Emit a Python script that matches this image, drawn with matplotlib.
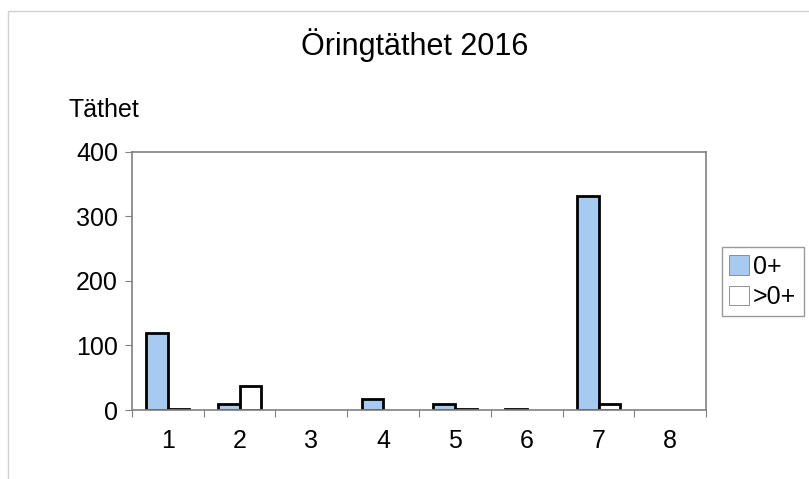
import numpy as np
import matplotlib.pyplot as plt
from matplotlib.patches import Rectangle

plt.rcParams["font.family"] = ["Liberation Sans", "DejaVu Sans"]

sites = ["1", "2", "3", "4", "5", "6", "7", "8"]
young = [120, 10, 0, 17, 10, 2, 332, 0]
older = [2, 37, 0, 0, 2, 0, 9, 0]

fig = plt.figure(figsize=(8.09, 4.79), dpi=100)
ax = fig.add_axes([0.163, 0.144, 0.710, 0.539])

# ram runt hela diagramytan
fig.patches.append(Rectangle((8 / 809, -0.1), 1.2, 1 - 11 / 479 + 0.1,
                             transform=fig.transFigure, fill=False,
                             edgecolor="#d0d0d0", linewidth=1.0))

x = np.arange(1, len(sites) + 1)
w = 0.3
# nollvärden ritas inte alls (ingen kantlinje på axeln)
lw_young = [2 if v > 0 else 0 for v in young]
lw_older = [2 if v > 0 else 0 for v in older]
ax.bar(x - w / 2, young, width=w, color="#a6caf0", edgecolor="black",
       linewidth=lw_young, label="0+")
ax.bar(x + w / 2, older, width=w, color="white", edgecolor="black",
       linewidth=lw_older, label=">0+")

ax.set_xlim(0.5, len(sites) + 0.5)
ax.set_ylim(0, 400)
ax.set_yticks([0, 100, 200, 300, 400])
ax.set_xticks(np.arange(0.5, len(sites) + 1, 1))
ax.set_xticklabels([])
ax.set_xticks(x, minor=True)
ax.set_xticklabels(sites, minor=True)
ax.tick_params(axis="x", which="minor", length=0, pad=14, labelsize=18)
ax.tick_params(axis="x", which="major", length=5, color="#808080")
ax.tick_params(axis="y", length=5, color="#808080", labelsize=18, pad=5)
for s in ax.spines.values():
    s.set_color("#808080")
    s.set_linewidth(1.2)

fig.text(0.513, 0.905, "Öringtäthet 2016", ha="center", va="center", fontsize=22)
fig.text(0.085, 0.77, "Täthet", ha="left", va="center", fontsize=18)

leg = fig.legend(loc="upper left", bbox_to_anchor=(0.892, 0.484),
                 frameon=True, fancybox=False, fontsize=18,
                 handlelength=0.8, handleheight=0.8, handletextpad=0.15,
                 borderpad=0.3, labelspacing=0.25, borderaxespad=0)
leg.get_frame().set_edgecolor("#808080")
leg.get_frame().set_linewidth(1.0)
for h in leg.legend_handles:
    h.set_linewidth(0.6)
    h.set_edgecolor("#808080")

fig.savefig("out.png", dpi=100)
